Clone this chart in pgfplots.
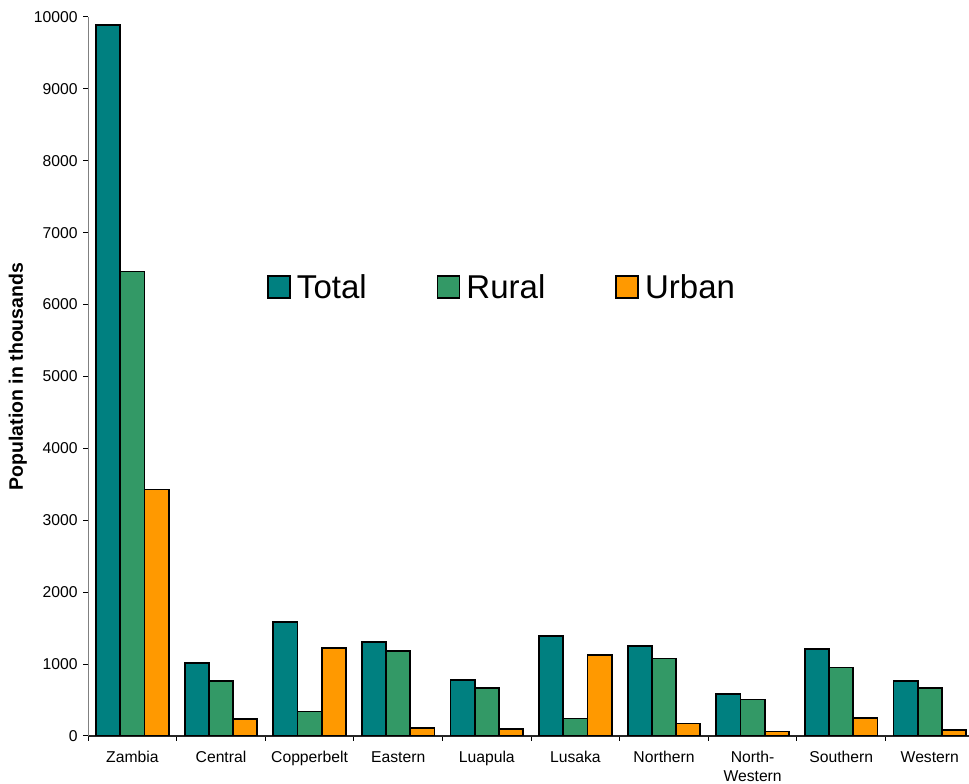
\documentclass[border=0pt]{standalone}
\usepackage{fontspec}
\setmainfont{Liberation Sans}
\usepackage{pgfplots}
\pgfplotsset{compat=1.18}
\usepackage{pgfplotstable}

\definecolor{cTotal}{HTML}{008080}
\definecolor{cRural}{HTML}{339966}
\definecolor{cUrban}{HTML}{FF9900}

% Population (thousands) by province: index, total, rural, urban
\pgfplotstableread{
idx total rural urban
0   9886  6459  3427
1   1010   765   240
2   1581   342  1225
3   1306  1186   115
4    775   665    95
5   1388   243  1132
6   1255  1079   175
7    580   508    62
8   1210   953   252
9    762   669    80
}\popdata

\begin{document}
\begin{tikzpicture}
\begin{axis}[
  at={(88.1pt,48pt)}, anchor=south west,
  scale only axis,
  width=886pt, height=719pt,
  ybar, bar width=0.273,
  xmin=-0.5, xmax=9.5,
  ymin=0, ymax=10000,
  axis x line*=bottom, axis y line*=left,
  axis line style={-, line width=1.2pt},
  x axis line style={draw=black!85},
  y axis line style={draw=black!50},
  tick align=outside,
  major tick length=5pt,
  tick style={black, line width=1pt},
  xtick={0,...,9},
  major x tick style={draw=none},
  minor xtick={-0.5,0.5,...,9.5},
  minor tick length=5pt,
  minor x tick style={black, line width=1pt},
  xticklabels={Zambia,Central,Copperbelt,Eastern,Luapula,Lusaka,Northern,{North-\\Western},Southern,Western},
  xticklabel style={align=center, anchor=north, yshift=-7pt,
    font=\fontsize{15.7}{19}\selectfont},
  ytick={0,1000,...,10000},
  scaled y ticks=false,
  yticklabel style={/pgf/number format/1000 sep={}, xshift=-2pt,
    font=\fontsize{15.7}{19}\selectfont},
  /pgf/number format/assume math mode=true,
  ylabel={\textbf{Population in thousands}},
  ylabel style={at={(axis description cs:-0.0792,0.5)}, anchor=center,
    font=\fontsize{19.5}{23}\selectfont},
  legend columns=3,
  legend style={at={(axis description cs:0.2019,0.6245)}, anchor=west,
    draw=none, fill=none, inner sep=0pt,
    font=\fontsize{33}{38}\selectfont,
    nodes={inner xsep=6pt, inner ysep=0pt},
    /tikz/every even column/.append style={column sep=64pt}},
  legend image code/.code={\draw[#1] (0pt,-11pt) rectangle (22pt,11pt);},
]
\addplot[draw=black, line width=1.8pt, fill=cTotal, bar shift=-0.273]
  table[x=idx, y=total] {\popdata};
\addplot[draw=black, line width=1.8pt, fill=cRural, bar shift=0]
  table[x=idx, y=rural] {\popdata};
\addplot[draw=black, line width=1.8pt, fill=cUrban, bar shift=0.273]
  table[x=idx, y=urban] {\popdata};
\legend{Total,Rural,Urban}
\end{axis}
\pgfresetboundingbox
\path[use as bounding box] (0,0) rectangle (969pt,784pt);
\end{tikzpicture}
\end{document}
